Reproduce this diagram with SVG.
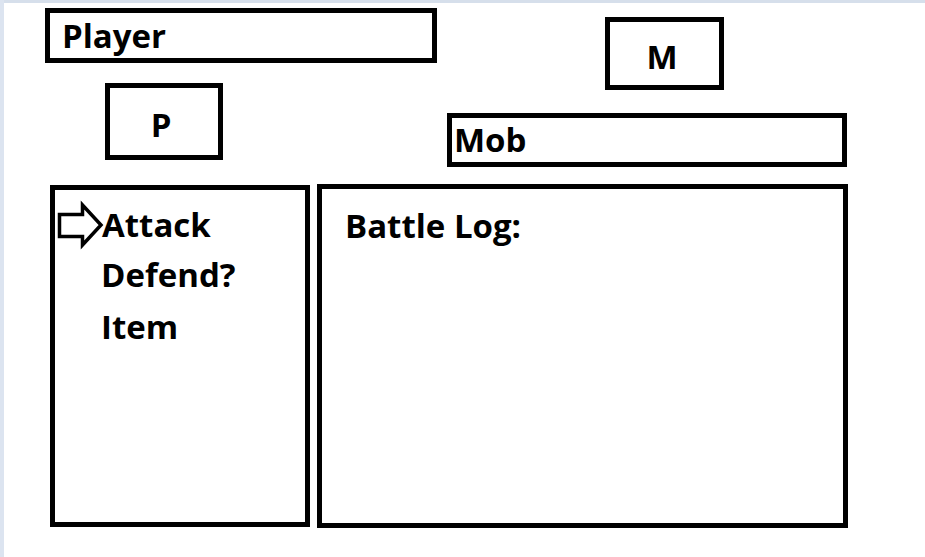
<svg xmlns="http://www.w3.org/2000/svg" width="925" height="557" viewBox="0 0 925 557">
<style>
.box{fill:#ffffff;stroke:#000000;stroke-width:5}
.t{font-family:"Open Sans","Liberation Sans",sans-serif;font-weight:700;font-size:33px;fill:#000000}
</style>
<rect x="0" y="0" width="925" height="557" fill="#ffffff"/>
<rect x="0" y="0" width="925" height="3" fill="#d6dfeb"/>
<rect x="0" y="0" width="4" height="557" fill="#dce4f0"/>
<g id="player-bar"><rect class="box" x="47.5" y="10.5" width="387" height="50"/><text class="t" x="62" y="48">Player</text></g>
<g id="player-sprite"><rect class="box" x="107.5" y="85.5" width="113" height="72"/><text class="t" x="161" y="137" text-anchor="middle">P</text></g>
<g id="mob-sprite"><rect class="box" x="607.5" y="19.5" width="114" height="68"/><text class="t" x="662" y="69" text-anchor="middle">M</text></g>
<g id="mob-bar"><rect class="box" x="449.5" y="115.5" width="395" height="49"/><text class="t" x="454" y="152">Mob</text></g>
<g id="menu"><rect class="box" x="52.5" y="187.5" width="255" height="337"/>
<text class="t" x="102" y="237">Attack</text>
<text class="t" x="101" y="287">Defend?</text>
<text class="t" x="101" y="339">Item</text>
<path d="M59.5,214.5 H82.5 V205 L101,225 L82.5,245 V236.5 H59.5 Z" fill="#ffffff" stroke="#000000" stroke-width="3.5" stroke-linejoin="miter"/>
</g>
<g id="battle-log"><rect class="box" x="319.5" y="186.5" width="526" height="339"/><text class="t" x="345" y="238">Battle Log:</text></g>
<g id="connectors"></g>
</svg>
